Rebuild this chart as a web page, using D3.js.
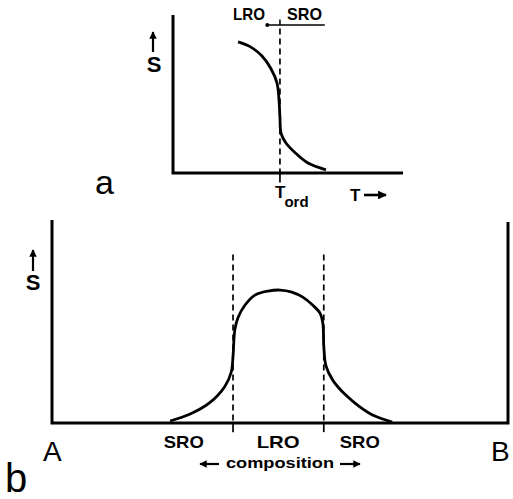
<!DOCTYPE html>
<html>
<head>
<meta charset="utf-8">
<script src="https://cdn.jsdelivr.net/npm/d3@7"></script>
<style>
  html, body { margin: 0; padding: 0; background: #fff; }
  svg { display: block; }
  text { font-family: "Liberation Sans", Arial, sans-serif; fill: #000; }
  .lbl { font-weight: bold; }
</style>
</head>
<body>
<div id="chart"></div>
<script>
// panel a: order parameter S vs temperature
const tempA = [28.3, 33.5, 38.7, 42.6, 45.2, 46.1, 46.5, 47.0, 49.1, 53.0, 58.7, 66.5];
const orderA = [0.83, 0.8, 0.74, 0.66, 0.57, 0.46, 0.35, 0.25, 0.19, 0.13, 0.063, 0.02];
const tOrd = 46.5;

// panel b: order parameter S vs composition (A -> B)
const compB = [25.9, 30.3, 34.6, 37.9, 39.3, 39.7, 40.1, 40.8, 42.3, 44.5, 47.4, 50.0,
  52.6, 55.0, 57.2, 58.8, 59.4, 59.6, 60.1, 61.6, 64.3, 67.5, 70.8, 74.6];
const orderB = [0.01, 0.044, 0.1, 0.18, 0.25, 0.33, 0.46, 0.52, 0.58, 0.63, 0.65, 0.655,
  0.645, 0.62, 0.58, 0.54, 0.49, 0.38, 0.28, 0.21, 0.14, 0.08, 0.034, 0.005];
const bounds = [39.7, 59.6];
const regionLabels = ["SRO", "LRO", "SRO"];

const width = 513;
const height = 499;

const svg = d3.select("#chart").append("svg")
  .attr("width", width)
  .attr("height", height)
  .attr("viewBox", `0 0 ${width} ${height}`);

svg.append("rect").attr("width", width).attr("height", height).attr("fill", "#fff");

const defs = svg.append("defs");
defs.append("marker")
  .attr("id", "head")
  .attr("viewBox", "0 0 10 10")
  .attr("refX", 9).attr("refY", 5)
  .attr("markerWidth", 3.4).attr("markerHeight", 3.4)
  .attr("markerUnits", "strokeWidth")
  .attr("orient", "auto")
  .append("path").attr("d", "M0,0 L10,5 L0,10 Z").attr("fill", "#000");

function arrow(x1, y1, x2, y2, w) {
  svg.append("line")
    .attr("x1", x1).attr("y1", y1).attr("x2", x2).attr("y2", y2)
    .attr("stroke", "#000").attr("stroke-width", w || 2)
    .attr("marker-end", "url(#head)");
}

// ---------- panel a ----------
const xA = d3.scaleLinear().domain([0, 100]).range([173, 403]);
const yA = d3.scaleLinear().domain([0, 1]).range([173, 15]);
const lineA = d3.line().x((d) => xA(d[0])).y((d) => yA(d[1]));

svg.append("path")
  .attr("d", lineA([[0, 1], [0, 0], [100, 0]]))
  .attr("fill", "none").attr("stroke", "#000").attr("stroke-width", 3);

svg.append("line")
  .attr("x1", xA(tOrd)).attr("x2", xA(tOrd))
  .attr("y1", yA(0.915)).attr("y2", yA(0))
  .attr("stroke", "#000").attr("stroke-width", 1.7)
  .attr("stroke-dasharray", "6,4");

svg.append("line")
  .attr("x1", xA(tOrd)).attr("x2", xA(tOrd))
  .attr("y1", yA(0)).attr("y2", yA(-0.06))
  .attr("stroke", "#000").attr("stroke-width", 1.7);

svg.append("path")
  .attr("d", lineA.curve(d3.curveCatmullRom)(tempA.map((t, i) => [t, orderA[i]])))
  .attr("fill", "none").attr("stroke", "#000").attr("stroke-width", 2.8);

// LRO | SRO above
svg.append("line")
  .attr("x1", xA(41)).attr("x2", xA(66))
  .attr("y1", yA(0.937)).attr("y2", yA(0.937))
  .attr("stroke", "#000").attr("stroke-width", 1.5);
svg.append("circle").attr("cx", xA(41)).attr("cy", yA(0.937)).attr("r", 2).attr("fill", "#000");
svg.append("line")
  .attr("x1", xA(tOrd)).attr("x2", xA(tOrd))
  .attr("y1", yA(0.972)).attr("y2", yA(0.937))
  .attr("stroke", "#000").attr("stroke-width", 1.5);

svg.append("text").attr("class", "lbl").attr("x", 233).attr("y", 20)
  .attr("font-size", 17).attr("textLength", 32).attr("lengthAdjust", "spacingAndGlyphs").text("LRO");
svg.append("text").attr("class", "lbl").attr("x", 287).attr("y", 20)
  .attr("font-size", 17).attr("textLength", 35).attr("lengthAdjust", "spacingAndGlyphs").text("SRO");

// S axis label a
arrow(153, 52, 153, 32, 2.2);
svg.append("text").attr("class", "lbl").attr("x", 154).attr("y", 72).attr("text-anchor", "middle")
  .attr("font-size", 22).text("S");

// T_ord and T ->
const tord = svg.append("text").attr("class", "lbl").attr("x", 275).attr("y", 198).attr("font-size", 17);
tord.append("tspan").text("T");
tord.append("tspan").attr("dx", -1).attr("dy", 9).attr("font-size", 15).text("ord");

svg.append("text").attr("class", "lbl").attr("x", 350).attr("y", 201).attr("font-size", 17).text("T");
arrow(364, 195, 386, 195, 2.6);

svg.append("text").attr("x", 95).attr("y", 194).attr("font-size", 34).text("a");

// ---------- panel b ----------
const xB = d3.scaleLinear().domain([0, 100]).range([52, 508]);
const yB = d3.scaleLinear().domain([0, 1]).range([423, 220]);
const lineB = d3.line().x((d) => xB(d[0])).y((d) => yB(d[1]));

svg.append("path")
  .attr("d", lineB([[0, 1], [0, 0], [100, 0], [100, 0.99]]))
  .attr("fill", "none").attr("stroke", "#000").attr("stroke-width", 3);

svg.selectAll("line.bound")
  .data(bounds)
  .join("line")
  .attr("class", "bound")
  .attr("x1", (d) => xB(d)).attr("x2", (d) => xB(d))
  .attr("y1", yB(0.83)).attr("y2", yB(0))
  .attr("stroke", "#000").attr("stroke-width", 1.7)
  .attr("stroke-dasharray", "6,4");

svg.selectAll("line.btick")
  .data(bounds)
  .join("line")
  .attr("class", "btick")
  .attr("x1", (d) => xB(d)).attr("x2", (d) => xB(d))
  .attr("y1", yB(0)).attr("y2", yB(-0.045))
  .attr("stroke", "#000").attr("stroke-width", 1.7);

svg.append("path")
  .attr("d", lineB.curve(d3.curveCatmullRom)(compB.map((c, i) => [c, orderB[i]])))
  .attr("fill", "none").attr("stroke", "#000").attr("stroke-width", 2.8);

const regionCenters = [28.9, 49.6, 67.5];
svg.selectAll("text.region")
  .data(regionLabels)
  .join("text")
  .attr("class", "region lbl")
  .attr("x", (d, i) => xB(regionCenters[i]))
  .attr("y", 448)
  .attr("text-anchor", "middle")
  .attr("font-size", 17)
  .attr("textLength", (d, i) => (i === 1 ? 43 : 40))
  .attr("lengthAdjust", "spacingAndGlyphs")
  .text((d) => d);

// S axis label b
arrow(33, 271, 33, 250, 2.2);
svg.append("text").attr("class", "lbl").attr("x", 33).attr("y", 290).attr("text-anchor", "middle")
  .attr("font-size", 22).text("S");

svg.append("text").attr("x", 43).attr("y", 461).attr("font-size", 28).text("A");
svg.append("text").attr("x", 491).attr("y", 461).attr("font-size", 28).text("B");
svg.append("text").attr("x", 5).attr("y", 492).attr("font-size", 40).text("b");

svg.append("text").attr("class", "lbl").attr("x", 226).attr("y", 468).attr("font-size", 15)
  .attr("textLength", 108).attr("lengthAdjust", "spacingAndGlyphs").text("composition");
arrow(219, 464, 200, 464, 2.2);
arrow(340, 464, 360, 464, 2.2);
</script>
</body>
</html>
